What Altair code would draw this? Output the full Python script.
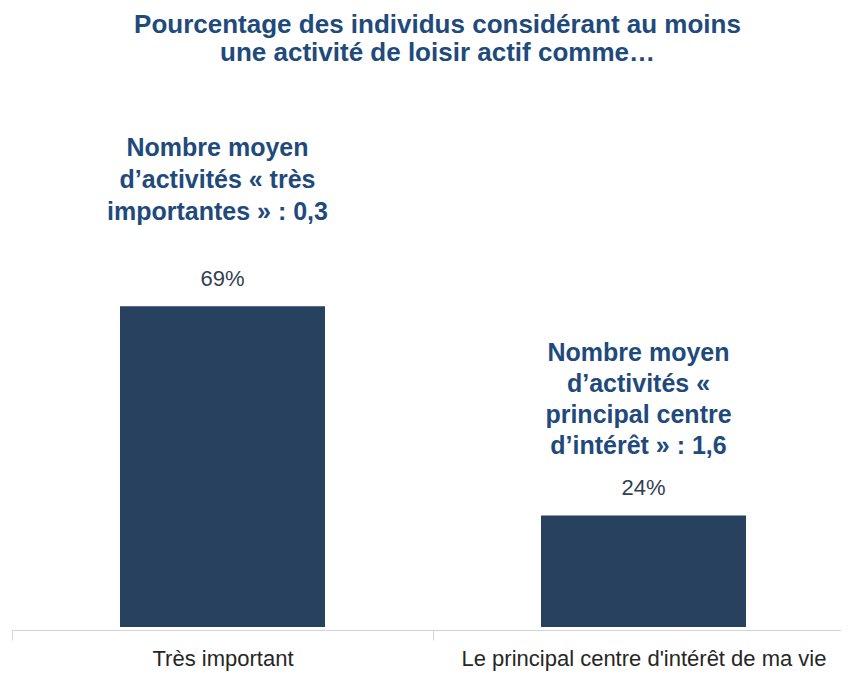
import altair as alt
import pandas as pd

categories = ["Très important", "Le principal centre d'intérêt de ma vie"]
values = [69, 24]
value_labels = ["69%", "24%"]
notes = [
    ["Nombre moyen", "d’activités « très", "importantes » : 0,3"],
    ["Nombre moyen", "d’activités «", "principal centre", "d’intérêt » : 1,6"],
]
title_lines = [
    "Pourcentage des individus  considérant au moins",
    "une activité de loisir actif comme…",
]

df = pd.DataFrame({
    "cat": categories,
    "value": values,
    "label": value_labels,
    "note": notes,
})

FONT = "Liberation Sans"
BAR = "#27415f"
NAVY = "#1f4a7c"

x_scale = alt.Scale(range=[0, 842], paddingInner=0, paddingOuter=0)
x_enc = alt.X(
    "cat:N",
    sort=categories,
    scale=x_scale,
    axis=alt.Axis(
        title=None,
        labelAngle=0,
        labelFont=FONT,
        labelFontSize=22,
        labelColor="#262626",
        labelPadding=8,
        labelLimit=600,
        domainColor="#d4d4d4",
        tickColor="#d4d4d4",
        tickSize=10,
        tickBand="extent",
        offset=3,
    ),
)
x_txt = alt.X("cat:N", sort=categories, scale=x_scale)
y_enc = alt.Y("value:Q", scale=alt.Scale(domain=[0, 100]), axis=None)

base = alt.Chart(df)

bars = base.mark_bar(color=BAR, width=alt.RelativeBandSize(0.487)).encode(x=x_enc, y=y_enc)

pct = base.mark_text(
    font=FONT, fontSize=22, color="#333f50", baseline="alphabetic", dy=-20
).encode(x=x_txt, y=y_enc, text="label:N")

note1 = base.transform_filter(alt.datum.cat == categories[0]).mark_text(
    font=FONT, fontSize=25, fontWeight="bold", color=NAVY,
    baseline="alphabetic", lineHeight=32, dy=-150, dx=-5
).encode(x=x_txt, y=y_enc, text="note")

note2 = base.transform_filter(alt.datum.cat == categories[1]).mark_text(
    font=FONT, fontSize=25, fontWeight="bold", color=NAVY,
    baseline="alphabetic", lineHeight=31, dy=-154, dx=-5
).encode(x=x_txt, y=y_enc, text="note")

chart = alt.layer(bars, pct, note1, note2).properties(
    width=829,
    height=465,
    autosize=alt.AutoSizeParams(type="none"),
    padding={"left": 4, "right": 0, "top": 154, "bottom": 45},
    title=alt.Title(
        title_lines,
        font=FONT,
        fontSize=26,
        fontWeight="bold",
        color=NAVY,
        anchor="middle",
        dx=11,
        offset=70,
        lineHeight=28,
    ),
).configure_view(stroke=None)

chart.save("out.html", embed_options={"renderer": "svg", "actions": False})
